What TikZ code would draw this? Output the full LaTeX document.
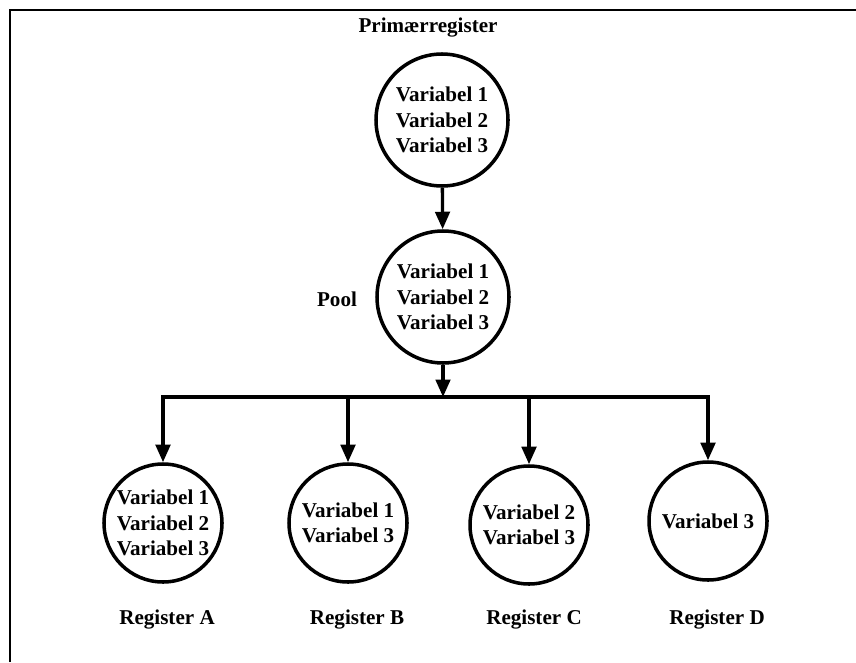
\documentclass[tikz,border=0pt]{standalone}
\usepackage{fontspec}
\setmainfont{Liberation Serif}
\usetikzlibrary{arrows.meta}
\begin{document}
\begin{tikzpicture}[x=0.2mm,y=-0.2mm,
  font=\fontsize{12pt}{14.4pt}\selectfont\bfseries,
  reg/.style={draw,circle,line width=2pt,inner sep=0pt,align=center},
  bigreg/.style={reg,minimum size=26.4mm},
  smallreg/.style={reg,minimum size=23.6mm},
  arr/.style={line width=1.9pt,-{Triangle[length=3.5mm,width=2.9mm]}}]
\useasboundingbox (0,0) rectangle (856,662);
\draw[line width=1.2pt] (10,662) -- (10,10) -- (856,10);
\node[bigreg] (prim) at (442,120) {Variabel 1\\Variabel 2\\Variabel 3};
\node (primlbl) at (428,28) {Primærregister};
\node[bigreg] (pool) at (443,297) {Variabel 1\\Variabel 2\\Variabel 3};
\node (poollbl) at (337,299) {Pool};
\node[smallreg] (regA) at (163,523) {Variabel 1\\Variabel 2\\Variabel 3};
\node[smallreg] (regB) at (348,523) {Variabel 1\\Variabel 3};
\node[smallreg] (regC) at (529,525) {Variabel 2\\Variabel 3};
\node[smallreg] (regD) at (708,521) {Variabel 3};
\node (lblA) at (167,620) {Register A};
\node (lblB) at (357,620) {Register B};
\node (lblC) at (534,620) {Register C};
\node (lblD) at (717,620) {Register D};
\coordinate (bus) at (443,397);
\draw[arr] (prim) -- (pool);
\draw[arr] (pool) -- (bus);
\draw[line width=1.9pt,line cap=rect] (regA.north |- bus) -- (regD.north |- bus);
\foreach \r in {regA,regB,regC,regD}
  \draw[arr] (\r.north |- bus) -- (\r.north);
\end{tikzpicture}
\end{document}
